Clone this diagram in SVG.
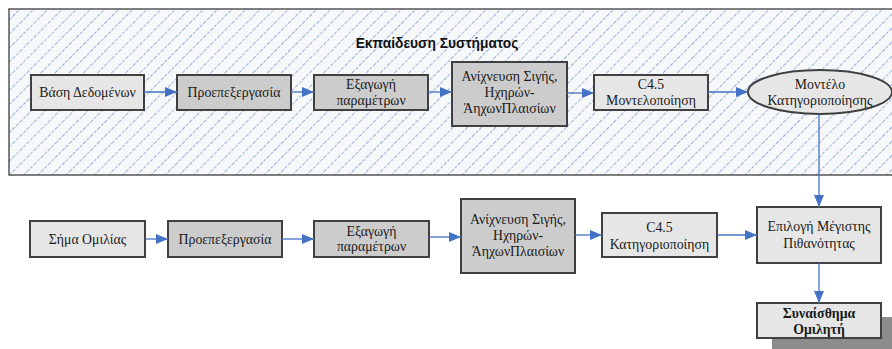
<svg xmlns="http://www.w3.org/2000/svg" width="892" height="349" viewBox="0 0 892 349">
<defs>
<pattern id="hatch" patternUnits="userSpaceOnUse" width="10" height="10" patternTransform="rotate(45)">
<rect width="10" height="10" fill="#f7f8fa"/>
<line x1="0" y1="0" x2="0" y2="10" stroke="#8eaadb" stroke-width="1.8" stroke-dasharray="3 1.5"/>
</pattern>
<marker id="arr" viewBox="0 0 12 10" refX="12" refY="5" markerWidth="12" markerHeight="10" markerUnits="userSpaceOnUse" orient="auto">
<path d="M0,0 L12,5 L0,10 Z" fill="#4472c4"/>
</marker>
<style>
.box{stroke:#404040;stroke-width:2}
.l{fill:#e6e6e6}
.d{fill:#cccccc}
.t{font-family:"Liberation Serif","Times New Roman","DejaVu Serif",serif;font-size:13.8px;fill:#1a1a1a;text-anchor:middle}
.b{font-weight:bold}
.c{stroke:#4472c4;stroke-width:1.3;fill:none;marker-end:url(#arr)}
</style>
</defs>
<g id="training">
<rect x="9" y="9" width="890" height="166" fill="url(#hatch)" stroke="#555" stroke-width="1.5"/>
<text x="437" y="48" font-family="Liberation Sans, Arial, sans-serif" font-size="13.8" font-weight="bold" text-anchor="middle" fill="#111">Εκπαίδευση Συστήματος</text>
</g>
<g id="n1"><rect class="box l" x="31" y="75" width="113" height="35"/><text class="t" x="87.5" y="97">Βάση Δεδομένων</text></g>
<g id="n2"><rect class="box d" x="177" y="75" width="114" height="35"/><text class="t" x="234" y="97">Προεπεξεργασία</text></g>
<g id="n3"><rect class="box d" x="314" y="75" width="114" height="35"/><text class="t" x="371" y="89">Εξαγωγή</text><text class="t" x="371" y="105">παραμέτρων</text></g>
<g id="n4"><rect class="box d" x="452" y="62" width="115" height="64"/><text class="t" x="509.5" y="81">Ανίχνευση Σιγής,</text><text class="t" x="509.5" y="97">Ηχηρών-</text><text class="t" x="509.5" y="113">ΆηχωνΠλαισίων</text></g>
<g id="n5"><rect class="box l" x="594" y="75" width="114" height="35"/><text class="t" x="651" y="89">C4.5</text><text class="t" x="651" y="105">Μοντελοποίηση</text></g>
<g id="n6"><ellipse class="box l" cx="820" cy="92" rx="72" ry="22"/><text class="t" x="820" y="89">Μοντέλο</text><text class="t" x="820" y="105">Κατηγοριοποίησης</text></g>
<g id="m1"><rect class="box l" x="30" y="221" width="115" height="36"/><text class="t" x="87.5" y="244">Σήμα Ομιλίας</text></g>
<g id="m2"><rect class="box d" x="168" y="221" width="114" height="36"/><text class="t" x="225" y="244">Προεπεξεργασία</text></g>
<g id="m3"><rect class="box d" x="314" y="221" width="115" height="36"/><text class="t" x="371.5" y="236">Εξαγωγή</text><text class="t" x="371.5" y="251">παραμέτρων</text></g>
<g id="m4"><rect class="box d" x="461" y="199" width="114" height="74"/><text class="t" x="518" y="224">Ανίχνευση Σιγής,</text><text class="t" x="518" y="240">Ηχηρών-</text><text class="t" x="518" y="256">ΆηχωνΠλαισίων</text></g>
<g id="m5"><rect class="box l" x="602" y="213" width="115" height="44"/><text class="t" x="659.5" y="232">C4.5</text><text class="t" x="659.5" y="249">Κατηγοριοποίηση</text></g>
<g id="m6"><rect class="box l" x="757" y="207" width="124" height="56"/><text class="t" x="819" y="231">Επιλογή Μέγιστης</text><text class="t" x="819" y="248">Πιθανότητας</text></g>
<g id="m7"><rect x="772" y="317" width="130" height="40" fill="#8c8c8c"/><rect class="box l" x="757" y="303" width="124" height="35"/><text class="t b" x="819" y="318">Συναίσθημα</text><text class="t b" x="819" y="334">Ομιλητή</text></g>
<g id="connectors">
<path class="c" d="M144,92 H177"/>
<path class="c" d="M291,92 H314"/>
<path class="c" d="M428,92 H452"/>
<path class="c" d="M567,93 H594"/>
<path class="c" d="M708,92 H748"/>
<path class="c" d="M819,114 V207"/>
<path class="c" d="M145,239 H168"/>
<path class="c" d="M282,239 H314"/>
<path class="c" d="M429,237 H461"/>
<path class="c" d="M575,235 H602"/>
<path class="c" d="M717,235 H757"/>
<path class="c" d="M819,263 V303"/>
</g>
</svg>
